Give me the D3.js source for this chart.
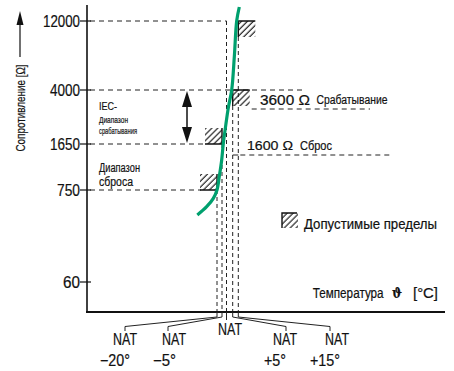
<!DOCTYPE html>
<html><head><meta charset="utf-8">
<script src="https://cdn.jsdelivr.net/npm/d3@7"></script>
<style>
body{margin:0;background:#fff}
text{font-family:"Liberation Sans",Arial,sans-serif;fill:#111;stroke:#111;stroke-width:0.2}
</style></head><body><svg id="c" width="454" height="371"></svg>
<script>
// ---- data ----
const yTicks = [60, 750, 1650, 4000, 12000];
const yTickLabels = ["60", "750", "1650", "4000", "12000"];
const tempOffsets = [-20, -5, 0, 5, 15];
const tempTopLabels = ["NAT", "NAT", "NAT", "NAT", "NAT"];
const tempBottomLabels = ["\u221220\u00b0", "\u22125\u00b0", "", "+5\u00b0", "+15\u00b0"];
const tempLineTopR = [750, 1650, 12000, 4000, 12000];
const limitR = [12000, 4000, 1650, 750];
const limitT = [15, 5, -5, -20];
const limitKind = ["trip", "trip", "reset", "reset"];
const curveT = [-79, -51, -31, -20, -13, -6, -3.6, -0.6, 1.5, 4.2, 7.9, 12.1, 16.8];
const curveR = [378, 474, 597, 750, 950, 1250, 1650, 2300, 3000, 4000, 6800, 12000, 15000];

const svg = d3.select("#c");
const axX = 87, axY = 312;
const x = d3.scaleLinear().domain(tempOffsets).range([217, 222, 226.5, 232.7, 238.3]);
const y = d3.scaleLog().domain(yTicks).range([282, 190, 144, 90, 21]);

// condensed text helper: squeeze to measured width
function txt(px, py, str, size, len, anchor) {
  const t = svg.append("text").attr("x", px).attr("y", py).attr("font-size", size)
    .attr("text-anchor", anchor || "start").text(str);
  if (len) t.attr("textLength", len).attr("lengthAdjust", "spacingAndGlyphs");
  return t;
}
// condensed text via transform scale (start anchored)
function txtScaled(px, py, str, size, len, family, weight) {
  const t = svg.append("text").attr("x", 0).attr("y", 0).attr("font-size", size).text(str);
  if (family) t.style("font-family", family);
  if (weight) t.attr("font-weight", weight);
  const w = t.node().getComputedTextLength();
  t.attr("transform", `translate(${px},${py}) scale(${len / w},1)`);
  return t;
}

// hatch pattern
const defs = svg.append("defs");
defs.append("pattern").attr("id", "hatch").attr("patternUnits", "userSpaceOnUse")
  .attr("width", 4.2).attr("height", 4.2).attr("patternTransform", "rotate(45)")
  .append("line").attr("x1", 1).attr("y1", 0).attr("x2", 1).attr("y2", 4.2)
  .attr("stroke", "#111").attr("stroke-width", 1.1);

const dash = "5,4";
// horizontal dashed reference lines
const hEnd = {12000: x(0), 4000: 303, 1650: x(-5) - 16, 750: x(-20) - 16};
[12000, 4000, 1650, 750].forEach(r => {
  svg.append("line").attr("x1", axX + 3).attr("x2", hEnd[r]).attr("y1", y(r)).attr("y2", y(r))
    .attr("stroke", "#222").attr("stroke-width", 1).attr("stroke-dasharray", dash);
});

// vertical dashed lines per temperature
tempOffsets.forEach((t, i) => {
  const kind = limitKind[limitT.indexOf(t)];
  let top = y(tempLineTopR[i]);
  if (kind === "trip") top += 16;
  svg.append("line").attr("x1", x(t)).attr("x2", x(t)).attr("y1", top).attr("y2", axY)
    .attr("stroke", "#222").attr("stroke-width", 1).attr("stroke-dasharray", "4,3");
});

// limit boxes
const bw = 17, bh = 16;
limitR.forEach((r, i) => {
  const cx = x(limitT[i]), cy = y(r);
  const g = svg.append("g");
  if (limitKind[i] === "trip") {
    g.append("rect").attr("x", cx).attr("y", cy).attr("width", bw).attr("height", bh).attr("fill", "url(#hatch)");
    g.append("path").attr("d", `M${cx},${cy + bh}V${cy}H${cx + bw}`).attr("fill", "none").attr("stroke", "#111").attr("stroke-width", 1.4);
  } else {
    g.append("rect").attr("x", cx - bw).attr("y", cy - bh).attr("width", bw).attr("height", bh).attr("fill", "url(#hatch)");
    g.append("path").attr("d", `M${cx - bw},${cy}H${cx}V${cy - bh}`).attr("fill", "none").attr("stroke", "#111").attr("stroke-width", 1.4);
  }
});

// annotation lines under labels
svg.append("line").attr("x1", x(5) + bw + 2).attr("x2", 370).attr("y1", y(4000) + 19).attr("y2", y(4000) + 19)
  .attr("stroke", "#222").attr("stroke-dasharray", dash);
svg.append("line").attr("x1", x(15) + 2).attr("x2", 390).attr("y1", 155).attr("y2", 155)
  .attr("stroke", "#222").attr("stroke-dasharray", dash);
svg.append("line").attr("x1", x(5)).attr("x2", x(15)).attr("y1", 155).attr("y2", 155).attr("stroke", "#222");

// axes
svg.append("line").attr("x1", axX).attr("x2", axX).attr("y1", 5).attr("y2", axY + 1).attr("stroke", "#111").attr("stroke-width", 1.6);
svg.append("line").attr("x1", axX - 1).attr("x2", 445).attr("y1", axY).attr("y2", axY).attr("stroke", "#111").attr("stroke-width", 2);
const tickLen = {"60": 17, "750": 23, "1650": 30, "4000": 30, "12000": 37};
yTicks.forEach((v, i) => {
  svg.append("line").attr("x1", axX - 7).attr("x2", axX + 4).attr("y1", y(v)).attr("y2", y(v))
    .attr("stroke", "#111").attr("stroke-width", 1.2);
  txt(axX - 7, y(v) + 5.8, yTickLabels[i], 16, tickLen[yTickLabels[i]], "end");
});

// curve
const pts = curveT.map((t, i) => [x(t), y(curveR[i])]);
svg.append("path").attr("d", d3.line().curve(d3.curveCatmullRom)(pts))
  .attr("fill", "none").attr("stroke", "#00a06e").attr("stroke-width", 3.2).attr("stroke-linecap", "butt");

// leaders and temperature labels
const leaderX = [125, 168, null, 286, 330];
const topLabelX = [125, 174, 230, 285, 337];
const botLabelX = [115, 164.5, 0, 275, 325];
const botLen = [30, 23, 0, 22, 30];
tempOffsets.forEach((t, i) => {
  const tx = x(t);
  if (leaderX[i] === null) {
    svg.append("line").attr("x1", tx).attr("x2", tx).attr("y1", axY).attr("y2", 320).attr("stroke", "#222");
    txt(topLabelX[i], 335, tempTopLabels[i], 16, 24, "middle");
  } else {
    svg.append("path").attr("d", `M${tx},${axY}V317L${leaderX[i]},326.5V331`).attr("fill", "none").attr("stroke", "#222").attr("stroke-width", 1);
    txt(topLabelX[i], 345, tempTopLabels[i], 16, 24, "middle");
    txt(botLabelX[i], 366, tempBottomLabels[i], 16, botLen[i], "middle");
  }
});

// y title and arrow
svg.append("line").attr("x1", 20).attr("x2", 20).attr("y1", 57).attr("y2", 22).attr("stroke", "#111").attr("stroke-width", 1.2);
svg.append("path").attr("d", "M20,11L16.5,25H23.5Z").attr("fill", "#111");
svg.append("text").attr("transform", "translate(24.5,108) rotate(-90)").attr("text-anchor", "middle")
  .attr("font-size", 12.5).attr("textLength", 87).attr("lengthAdjust", "spacingAndGlyphs").text("Сопротивление [Ω]");

// double arrow
const ax2 = 187;
svg.append("line").attr("x1", ax2).attr("x2", ax2).attr("y1", y(4000) + 8).attr("y2", y(1650) - 8).attr("stroke", "#111").attr("stroke-width", 1.5);
svg.append("path").attr("d", `M${ax2},${y(4000) + 1}L${ax2 - 5},${y(4000) + 17}H${ax2 + 5}Z`).attr("fill", "#111");
svg.append("path").attr("d", `M${ax2},${y(1650) - 1}L${ax2 - 5},${y(1650) - 17}H${ax2 + 5}Z`).attr("fill", "#111");

// texts
txt(99, 110, "IEC-", 11.5, 18);
txt(99, 122.5, "Диапазон", 9.5, 29);
txt(99, 133.5, "срабатывания", 9.5, 38);
txt(99, 171.5, "Диапазон", 12, 41);
txt(99, 185.5, "сброса", 12, 34);
txt(260, 105, "3600 Ω", 14, 50);
txt(316.5, 104, "Срабатывание", 12.5, 71);
txt(247, 150, "1600 Ω", 13.5, 46);
txt(300, 150, "Сброс", 12.5, 32);

// legend
svg.append("rect").attr("x", 282).attr("y", 213).attr("width", 16).attr("height", 15).attr("fill", "url(#hatch)");
svg.append("path").attr("d", "M282,228V213H297").attr("fill", "none").attr("stroke", "#111").attr("stroke-width", 1.4);
txt(304, 229, "Допустимые пределы", 14, 133);

// x title
txtScaled(312.7, 298, "Температура", 14.5, 71);
txtScaled(392, 298, "ϑ", 15, 10, '"DejaVu Serif",serif', "bold");
txtScaled(413, 298, "[°C]", 14.5, 25);
</script></body></html>
